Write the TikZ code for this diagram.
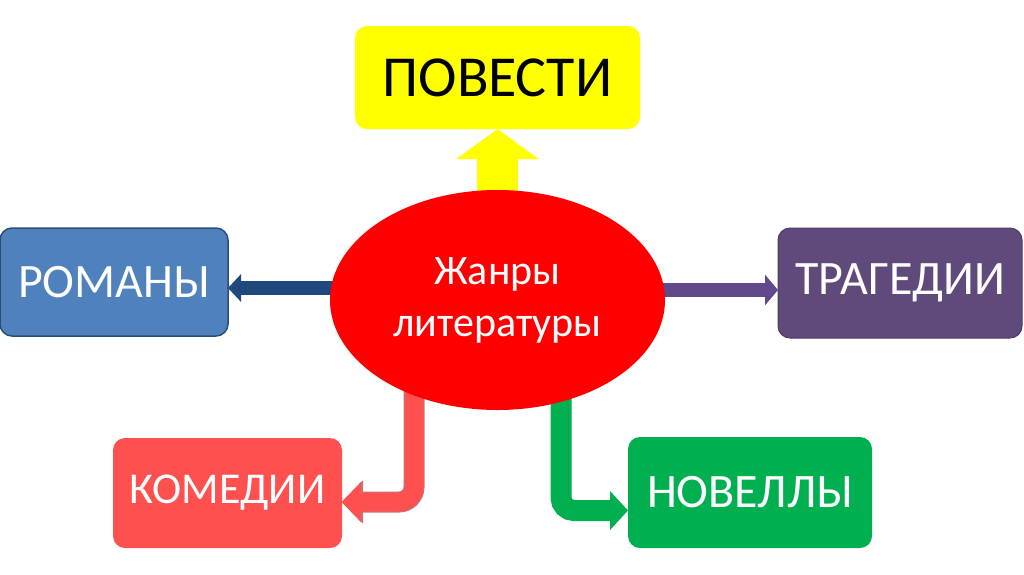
\documentclass[tikz,border=0pt]{standalone}
\usepackage{fontspec}
\setmainfont{Carlito}
\usetikzlibrary{arrows.meta,shapes.geometric}
\definecolor{yfill}{HTML}{FFFF00}
\definecolor{ellred}{HTML}{FF0000}
\definecolor{bfill}{HTML}{4F81BD}
\definecolor{bline}{HTML}{2C4D75}
\definecolor{barrow}{HTML}{1F497D}
\definecolor{pfill}{HTML}{604A7B}
\definecolor{pline}{HTML}{4B3A63}
\definecolor{parrow}{RGB}{96,74,140}
\definecolor{rfill}{HTML}{FF5050}
\definecolor{rline}{RGB}{190,120,125}
\definecolor{gfill}{HTML}{00B050}
\tikzset{
  genre/.style={rectangle, rounded corners=12pt, inner sep=0pt, outer sep=0pt,
    font=\fontsize{48}{50}\selectfont, text=white},
}
\begin{document}
\begin{tikzpicture}[x=1pt,y=-1pt]
\useasboundingbox (0,0) rectangle (1024,574);
% boxes
\node[genre, fill=yfill, text=black, minimum width=285pt, minimum height=103pt,
  font=\fontsize{58}{60}\selectfont] (pov) at (497.5,77.5) {ПОВЕСТИ};
\node[genre, fill=bfill, draw=bline, line width=1.5pt, minimum width=228pt, minimum height=108pt] (rom) at (114,282) {РОМАНЫ};
\node[genre, fill=pfill, draw=pline, line width=1pt, minimum width=244pt, minimum height=110pt] (tra) at (900,283) {ТРАГЕДИИ};
\node[genre, fill=rfill, minimum width=229pt, minimum height=110pt, font=\fontsize{44}{46}\selectfont] (kom) at (227.5,493) {КОМЕДИИ};
\node[genre, fill=gfill, minimum width=244pt, minimum height=111pt] (nov) at (750,492.5) {НОВЕЛЛЫ};
% connector start points hidden under the ellipse
\coordinate (ec) at (497.5,300);
\coordinate (rs) at (414,300);
\coordinate (gs) at (561,300);
% straight arrows
\draw[yfill, line width=41pt, -{Triangle[length=30pt,width=81pt]}] (ec) -- (pov.south);
\draw[barrow, line width=14pt, -{Triangle[length=13pt,width=27pt]}] ([yshift=-6pt]rom.east -| ec) -- ([yshift=-6pt]rom.east);
\draw[parrow, line width=14pt, -{Triangle[length=13pt,width=30pt]}] ([yshift=-7pt]tra.west -| ec) -- ([yshift=-7pt]tra.west);
% bent arrows
\draw[rline, line width=21pt, rounded corners=15pt, -{Triangle[length=21pt,width=42pt]}] (rs) |- ([yshift=-9pt]kom.east);
\draw[rfill, line width=19pt, rounded corners=15pt, -{Triangle[length=19.5pt,width=39pt]}] (rs) |- ([yshift=-9pt,xshift=-0.5pt]kom.east);
\draw[gfill, line width=21pt, rounded corners=13pt, -{Triangle[length=18pt,width=38pt]}] (gs) |- ([yshift=-18pt]nov.west);
% ellipse
\node[ellipse, fill=ellred, minimum width=335pt, minimum height=220pt, inner sep=0pt,
  text=white, align=center, font=\fontsize{42}{52}\selectfont] (ell) at (ec) {Жанры\\литературы};
\end{tikzpicture}
\end{document}
